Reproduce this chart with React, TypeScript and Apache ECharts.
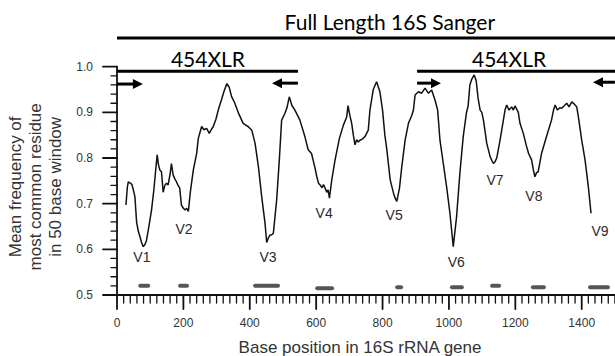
import React, { useEffect, useRef } from "react";
import * as echarts from "echarts";

// Sliding-window conservation trace (base position, mean frequency)
const positions = [
  27, 31, 34, 40, 45, 50, 54, 59, 64, 69, 74, 79, 84, 89, 96, 104, 111, 117, 121, 125,
  129, 134, 139, 144, 149, 154, 160, 164, 169, 174, 179, 184, 189, 194, 200, 205, 210, 215, 221, 230,
  240, 245, 255, 262, 270, 278, 284, 290, 298, 305, 315, 322, 331, 338, 345, 355, 365, 380, 388, 395,
  406, 416, 426, 436, 446, 451, 456, 461, 466, 471, 481, 489, 496, 506, 512, 519, 527, 536, 551, 566,
  576, 586, 596, 602, 607, 612, 618, 622, 627, 632, 636, 640, 647, 657, 670, 682, 692, 696, 701, 707,
  712, 717, 722, 727, 732, 740, 747, 757, 762, 772, 782, 792, 800, 807, 813, 823, 833, 838, 843, 847,
  851, 858, 868, 878, 888, 893, 898, 908, 918, 928, 938, 948, 958, 966, 973, 983, 993, 1003, 1013, 1023,
  1033, 1043, 1053, 1058, 1063, 1069, 1076, 1082, 1088, 1094, 1099, 1104, 1114, 1124, 1129, 1134, 1139, 1144, 1154, 1164,
  1169, 1174, 1181, 1189, 1194, 1199, 1209, 1214, 1224, 1234, 1240, 1249, 1254, 1259, 1264, 1269, 1279, 1294, 1309, 1315,
  1320, 1327, 1334, 1340, 1348, 1355, 1362, 1370, 1378, 1385, 1390, 1400, 1410, 1420, 1428,
];
const frequencies = [
  0.697, 0.735, 0.748, 0.745, 0.742, 0.728, 0.715, 0.66, 0.64, 0.628, 0.615, 0.606, 0.61, 0.62, 0.65, 0.686, 0.73, 0.777, 0.807, 0.785,
  0.774, 0.77, 0.725, 0.74, 0.745, 0.741, 0.765, 0.788, 0.763, 0.755, 0.748, 0.74, 0.734, 0.697, 0.69, 0.686, 0.69, 0.683, 0.726, 0.774,
  0.81, 0.843, 0.869, 0.862, 0.865, 0.854, 0.862, 0.869, 0.885, 0.905, 0.928, 0.945, 0.963, 0.955, 0.935, 0.92, 0.9, 0.876, 0.872, 0.869,
  0.861, 0.832, 0.781, 0.715, 0.657, 0.615, 0.625, 0.631, 0.632, 0.635, 0.708, 0.796, 0.883, 0.898, 0.91, 0.934, 0.915, 0.905, 0.883, 0.847,
  0.818, 0.81, 0.78, 0.759, 0.745, 0.741, 0.735, 0.742, 0.734, 0.725, 0.73, 0.712, 0.752, 0.796, 0.843, 0.872, 0.89, 0.915, 0.895, 0.876,
  0.85, 0.829, 0.84, 0.835, 0.839, 0.842, 0.847, 0.861, 0.905, 0.95, 0.967, 0.945, 0.905, 0.85, 0.818, 0.752, 0.723, 0.712, 0.705, 0.72,
  0.734, 0.781, 0.839, 0.876, 0.893, 0.905, 0.938, 0.945, 0.942, 0.953, 0.942, 0.949, 0.927, 0.905, 0.839, 0.788, 0.737, 0.679, 0.606, 0.671,
  0.767, 0.847, 0.9, 0.915, 0.96, 0.973, 0.982, 0.97, 0.93, 0.905, 0.9, 0.883, 0.832, 0.803, 0.795, 0.788, 0.792, 0.8, 0.839, 0.883,
  0.905, 0.916, 0.905, 0.912, 0.905, 0.914, 0.9, 0.876, 0.854, 0.825, 0.81, 0.796, 0.775, 0.759, 0.768, 0.77, 0.81, 0.847, 0.883, 0.905,
  0.916, 0.905, 0.91, 0.909, 0.915, 0.92, 0.912, 0.923, 0.918, 0.912, 0.89, 0.839, 0.796, 0.737, 0.679,
];

// Variable regions: labels and their positions
const regionLabels = ["V1", "V2", "V3", "V4", "V5", "V6", "V7", "V8", "V9"];
const regionLabelX = [75, 202, 455, 624, 835, 1022, 1139, 1256, 1455];
const regionLabelY = [0.583, 0.644, 0.583, 0.679, 0.675, 0.572, 0.752, 0.717, 0.64];
const regionStart = [64, 184, 410, 597, 838, 1003, 1124, 1247, 1419];
const regionEnd = [100, 217, 491, 654, 862, 1045, 1157, 1292, 1485];
const regionLevel = [0.52, 0.52, 0.52, 0.515, 0.517, 0.517, 0.52, 0.517, 0.517];

// Sequencing amplicons
const ampliconNames = ["Full Length 16S Sanger", "454XLR", "454XLR"];
const ampliconStart = [0, 0, 904];
const ampliconEnd = [1600, 545, 1600];
const ampliconLevel = [1.063, 0.99, 0.99];
const ampliconLabelX = [822, 274, 1181];
const ampliconLabelLevel = [1.098, 1.019, 1.019];

// Primers (tail -> head)
const primerTail = [0, 545, 904, 1500];
const primerHead = [78, 467, 976, 1434];
const primerLevel = [0.962, 0.964, 0.964, 0.966];

// Axis ranges and ticks
const X_MIN = 0;
const X_MAX = 1600;
const X_STEP = 200;
const X_MINOR_DIV = 10;
const Y_MIN = 0.5;
const Y_MAX = 1.0;
const Y_STEP = 0.1;
const Y_MINOR_DIV = 5;

const AXIS_FONT = "Liberation Sans";
const AXIS_COLOR = "#111";

function buildTicks(min: number, max: number, step: number, div: number) {
  const out: Array<[number, number]> = [];
  const nMajor = Math.round((max - min) / step);
  for (let i = 0; i <= nMajor; i++) {
    for (let j = 0; j < div; j++) {
      if (i === nMajor && j > 0) break;
      out.push([min + i * step + (j * step) / div, j === 0 ? 1 : 0]);
    }
  }
  return out;
}

export default function App() {
  const ref = useRef<HTMLDivElement>(null);
  useEffect(() => {
    if (!ref.current) return;
    const chart = echarts.init(ref.current, null, { renderer: "svg" });
    const lineData = positions.map((p, i) => [p, frequencies[i]]);

    // rows: [kind (0 = x tick, 1 = y tick, 2 = x axis line, 3 = y axis line), value, major]
    const axisRows: number[][] = [[2, X_MIN, 1], [3, Y_MIN, 1]];
    buildTicks(X_MIN, X_MAX, X_STEP, X_MINOR_DIV).forEach(([v, m]) => axisRows.push([0, v, m]));
    buildTicks(Y_MIN, Y_MAX, Y_STEP, Y_MINOR_DIV).forEach(([v, m]) => axisRows.push([1, v, m]));

    chart.setOption({
      animation: false,
      backgroundColor: "#ffffff",
      grid: { left: 117, top: 66.7, bottom: 61, right: -33.1, containLabel: false, outerBoundsMode: "none" },
      xAxis: {
        type: "value",
        min: X_MIN,
        max: X_MAX,
        interval: X_STEP,
        name: "Base position in 16S rRNA gene",
        nameLocation: "middle",
        nameGap: 44,
        nameTextStyle: { fontSize: 17, color: "#333", fontFamily: AXIS_FONT, padding: [0, 45, 0, 0] },
        axisLine: { show: false },
        axisTick: { show: false },
        splitLine: { show: false },
        axisLabel: {
          margin: 22,
          fontSize: 12,
          color: "#333",
          fontFamily: AXIS_FONT,
          formatter: (v: number) => (v > 1400 ? "" : String(v)),
        },
      },
      yAxis: {
        type: "value",
        min: Y_MIN,
        max: Y_MAX,
        interval: Y_STEP,
        name: "Mean frequency of\nmost common residue\nin 50 base window",
        nameLocation: "middle",
        nameGap: 48,
        nameTextStyle: { fontSize: 17, lineHeight: 20, color: "#333", fontFamily: AXIS_FONT, padding: [0, 12, 0, 0] },
        axisLine: { show: false },
        axisTick: { show: false },
        splitLine: { show: false },
        axisLabel: {
          margin: 24,
          fontSize: 12,
          color: "#333",
          fontFamily: AXIS_FONT,
          formatter: (v: number) => v.toFixed(1),
        },
      },
      series: [
        {
          type: "line",
          data: lineData,
          showSymbol: false,
          symbol: "none",
          lineStyle: { color: "#111", width: 1.5 },
          z: 3,
        },
        {
          // axis lines and ticks, placed through the axes' own scales
          type: "custom",
          clip: false,
          data: axisRows,
          renderItem: (params: any, api: any) => {
            const kind = api.value(0);
            const v = api.value(1);
            const major = api.value(2) === 1;
            const o = api.coord([X_MIN, Y_MIN]);
            if (kind === 2) {
              const e = api.coord([X_MAX, Y_MIN]);
              return {
                type: "line",
                shape: { x1: o[0] - 1, y1: o[1], x2: e[0], y2: e[1] },
                style: { stroke: AXIS_COLOR, lineWidth: 1.8, lineCap: "round" },
              };
            }
            if (kind === 3) {
              const e = api.coord([X_MIN, Y_MAX]);
              return {
                type: "line",
                shape: { x1: o[0], y1: o[1] + 1, x2: e[0], y2: e[1] },
                style: { stroke: AXIS_COLOR, lineWidth: 1.8, lineCap: "round" },
              };
            }
            if (kind === 0) {
              const p = api.coord([v, Y_MIN]);
              const len = major ? 14 : 8;
              return {
                type: "line",
                shape: { x1: p[0], y1: p[1], x2: p[0], y2: p[1] + len },
                style: { stroke: AXIS_COLOR, lineWidth: major ? 1.8 : 1.3, lineCap: "round" },
              };
            }
            const p = api.coord([X_MIN, v]);
            const len = major ? 14 : 6;
            return {
              type: "line",
              shape: { x1: p[0], y1: p[1], x2: p[0] - len, y2: p[1] },
              style: { stroke: AXIS_COLOR, lineWidth: major ? 1.8 : 1.3, lineCap: "round" },
            };
          },
        },
        {
          type: "custom",
          clip: false,
          data: regionStart.map((s, i) => [s, regionEnd[i], regionLevel[i]]),
          renderItem: (params: any, api: any) => {
            const a = api.coord([api.value(0), api.value(2)]);
            const b = api.coord([api.value(1), api.value(2)]);
            return {
              type: "line",
              shape: { x1: a[0] + 2, y1: a[1], x2: b[0] - 2, y2: b[1] },
              style: { stroke: "#555", lineWidth: 4, lineCap: "round" },
            };
          },
        },
        {
          type: "custom",
          clip: false,
          data: regionLabelX.map((x, i) => [x, regionLabelY[i], i]),
          renderItem: (params: any, api: any) => {
            const p = api.coord([api.value(0), api.value(1)]);
            return {
              type: "text",
              x: p[0],
              y: p[1],
              style: {
                text: regionLabels[api.value(2)],
                fill: "#2a2a2a",
                fontSize: 14,
                fontFamily: AXIS_FONT,
                align: "center",
                verticalAlign: "middle",
              },
            };
          },
        },
        {
          type: "custom",
          clip: false,
          data: ampliconStart.map((s, i) => [s, ampliconEnd[i], ampliconLevel[i], ampliconLabelX[i], ampliconLabelLevel[i], i]),
          renderItem: (params: any, api: any) => {
            const a = api.coord([api.value(0), api.value(2)]);
            const b = api.coord([api.value(1), api.value(2)]);
            const t = api.coord([api.value(3), api.value(4)]);
            return {
              type: "group",
              children: [
                {
                  type: "line",
                  shape: { x1: a[0], y1: a[1], x2: b[0], y2: b[1] },
                  style: { stroke: "#000", lineWidth: 3 },
                },
                {
                  type: "text",
                  x: t[0],
                  y: t[1],
                  style: {
                    text: ampliconNames[api.value(5)],
                    fill: "#000",
                    fontSize: 21,
                    fontFamily: "Lato",
                    align: "center",
                    verticalAlign: "middle",
                  },
                },
              ],
            };
          },
        },
        {
          type: "custom",
          clip: false,
          data: primerTail.map((s, i) => [s, primerHead[i], primerLevel[i]]),
          renderItem: (params: any, api: any) => {
            const t = api.coord([api.value(0), api.value(2)]);
            const h = api.coord([api.value(1), api.value(2)]);
            const dir = h[0] > t[0] ? 1 : -1;
            const hl = 10;
            const hw = 5;
            return {
              type: "group",
              children: [
                {
                  type: "line",
                  shape: { x1: t[0], y1: t[1], x2: h[0] - dir * (hl - 1), y2: h[1] },
                  style: { stroke: "#000", lineWidth: 3 },
                },
                {
                  type: "polygon",
                  shape: {
                    points: [
                      [h[0], h[1]],
                      [h[0] - dir * hl, h[1] - hw],
                      [h[0] - dir * hl, h[1] + hw],
                    ],
                  },
                  style: { fill: "#000" },
                },
              ],
            };
          },
        },
      ],
    });

    return () => chart.dispose();
  }, []);
  return (
    <div
      ref={ref}
      style={{ position: "fixed", left: 0, top: 0, width: 615, height: 356, background: "#fff" }}
    />
  );
}
